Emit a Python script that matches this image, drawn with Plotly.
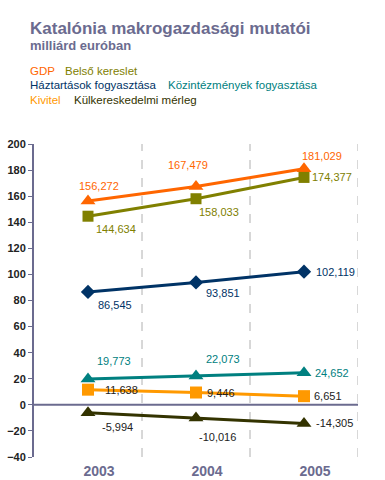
import plotly.graph_objects as go

years = ["2003", "2004", "2005"]
gdp = [156.272, 167.479, 181.029]
belso = [144.634, 158.033, 174.377]
haztartas = [86.545, 93.851, 102.119]
kozint = [19.773, 22.073, 24.652]
kivitel = [11.638, 9.446, 6.651]
merleg = [-5.994, -10.016, -14.305]

series = [
    ("GDP", gdp, "#ff6600", "triangle-up", 13, "#ff6600", [(11, -15), (-8, -21), (18, -13)]),
    ("Belső kereslet", belso, "#808000", "square", 11, "#808000", [(28, 13), (23, 13), (28, 0)]),
    ("Háztartások fogyasztása", haztartas, "#003366", "diamond", 11, "#003366", [(27, 13), (27, 11), (31, 0)]),
    ("Közintézmények fogyasztása", kozint, "#008080", "triangle-up", 13, "#008080", [(26, -18), (27, -17), (28, 0)]),
    ("Kivitel", kivitel, "#ff9900", "square", 12, "#222222", [(33, 0), (25, 0), (24, 0)]),
    ("Külkereskedelmi mérleg", merleg, "#333300", "triangle-up", 13, "#222222", [(29, 14), (21, 19), (30, 0)]),
]

fig = go.Figure()
ann = []
for name, vals, col, sym, msize, lcol, offs in series:
    fig.add_trace(go.Scatter(
        x=list(range(len(years))), y=vals, mode="lines+markers", name=name,
        line=dict(color=col, width=3),
        marker=dict(symbol=sym, size=msize, color=col),
        showlegend=False, hoverinfo="skip"))
    for i, v in enumerate(vals):
        txt = f"{v:,.3f}".replace(".", ",")
        ann.append(dict(x=i, y=v, xref="x", yref="y", text=txt, showarrow=False,
                        xshift=offs[i][0], yshift=-offs[i][1],
                        font=dict(family="Arial", size=11, color=lcol)))

# vertical dashed separators
for xb in [0.5, 1.5, 2.5]:
    fig.add_shape(type="line", x0=xb, x1=xb, y0=0, y1=1, xref="x", yref="paper",
                  line=dict(color="#b0b0b0", width=1, dash="dash"), layer="below")

# zero line
fig.add_shape(type="line", x0=0, x1=1, y0=0, y1=0, xref="paper", yref="y",
              line=dict(color="#6b6b8f", width=2), layer="below")

title_col = "#6b6b8f"

L, R, T, B = 34, 27, 144, 23
pw, ph = 385 - L - R, 480 - T - B

def ptxt(px, py, t, color, size, bold=False):
    return dict(x=(px - L) / pw, y=(480 - B - py) / ph, xref="paper", yref="paper",
                xanchor="left", yanchor="middle", showarrow=False,
                text=(f"<b>{t}</b>" if bold else t),
                font=dict(family="Arial", size=size, color=color))

ann += [
    ptxt(28, 28, "Katalónia makrogazdasági mutatói", title_col, 17, True),
    ptxt(28, 45, "milliárd euróban", title_col, 13, True),
    ptxt(28, 71, "GDP", "#ff6600", 11.5),
    ptxt(63, 71, "Belső kereslet", "#808000", 11.5),
    ptxt(28, 85, "Háztartások fogyasztása", "#003366", 11.5),
    ptxt(166, 85, "Közintézmények fogyasztása", "#008080", 11.5),
    ptxt(28, 100, "Kivitel", "#ff9900", 11.5),
    ptxt(72, 100, "Külkereskedelmi mérleg", "#333300", 11.5),
]

fig.update_layout(
    width=385, height=480,
    margin=dict(l=L, r=R, t=T, b=B, autoexpand=False),
    paper_bgcolor="white", plot_bgcolor="white",
    annotations=ann,
    xaxis=dict(range=[-0.5, 2.5], tickvals=[0, 1, 2], ticktext=years,
               showgrid=False, zeroline=False, showline=False, ticks="",
               automargin=False, ticklabelshift=11, ticklabelstandoff=4,
               tickfont=dict(family="Arial", size=14, color=title_col, weight="bold")),
    yaxis=dict(range=[-40, 200], dtick=20, showgrid=False, zeroline=False,
               automargin=False,
               showline=True, linecolor="#6b6b8f", linewidth=2,
               ticks="outside", ticklen=4, tickcolor="#6b6b8f",
               tickfont=dict(family="Arial", size=11, color="#222222", weight="bold")),
)

fig.write_html("out.html", config={"displayModeBar": False},
               post_script="document.body.style.margin='0';document.body.style.overflow='hidden';")
